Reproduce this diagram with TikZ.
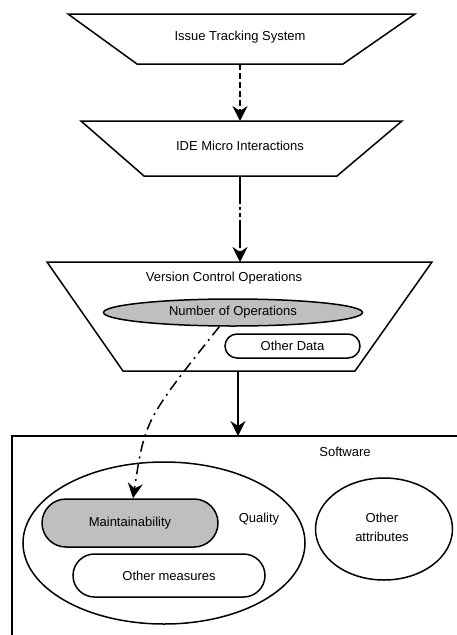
\documentclass[tikz,border=0pt]{standalone}
\usepackage{fontspec}
\setmainfont{Liberation Sans}
\usetikzlibrary{shapes.geometric,shapes.misc,arrows.meta}
\begin{document}
\begin{tikzpicture}[x=1pt,y=-1pt,
  every node/.style={font=\fontsize{13}{19}\selectfont, inner sep=0pt},
  shp/.style={draw, line width=1.5pt},
  gfill/.style={fill=black!25},
  arr/.style={line width=1.5pt, -{Stealth[length=15pt,width=15pt,inset=5pt]}},
  lbl/.style={text=black}]
\useasboundingbox (0,0) rectangle (457,635);
\clip (0,0) rectangle (457,635);
% trapezoids
\draw[shp, line join=miter] (68,14) -- (415,14) -- (343,64) -- (137,64) -- cycle;
\draw[shp, line join=miter] (81,121) -- (402,121) -- (337,176) -- (144,176) -- cycle;
\draw[shp, line join=miter] (47,262) -- (432,262) -- (355,371) -- (123,371) -- cycle;
\coordinate (t1b) at (240,64);
\coordinate (t2t) at (240,121);
\coordinate (t2b) at (240,176);
\coordinate (t3t) at (240,262);
\coordinate (t3b) at (238,371);
\coordinate (swt) at (238,436);
\node[lbl] (its) at (240,37) {Issue Tracking System};
\node[lbl] (ide) at (240,146) {IDE Micro Interactions};
\node[lbl] (vco) at (224,278) {Version Control Operations};
\node[shp, gfill, ellipse, minimum width=259pt, minimum height=27pt] (nop) at (233,312.5) {Number of Operations};
\node[shp, rounded rectangle, minimum width=135pt, minimum height=24pt] (od) at (292.5,346) {Other Data};
% software box
\draw[shp] (12,436) rectangle (475,655);
\node[lbl] (sw) at (345,452) {Software};
\node[shp, ellipse, minimum width=282pt, minimum height=162pt] (qual) at (164,543) {};
\node[lbl] (ql) at (259,519) {Quality};
\node[shp, gfill, rounded rectangle, minimum width=176pt, minimum height=48pt] (maint) at (130,523) {Maintainability};
\node[shp, rounded rectangle, minimum width=192pt, minimum height=43pt] (om) at (169,575.5) {Other measures};
\node[shp, ellipse, minimum width=137pt, minimum height=102pt, align=center] (oa) at (384,529) {};
\node[lbl, align=center] (oat) at (382,527) {Other\\attributes};
% connectors
\draw[arr, dash pattern=on 6pt off 3pt] (t1b) -- (t2t);
\draw[arr, dash pattern=on 28pt off 3pt on 3pt off 3pt on 4pt off 3pt] (t2b) -- (t3t);
\draw[arr] (t3b) -- (swt);
\draw[arr, dash pattern=on 11pt off 5pt on 2pt off 5pt] (nop.226) .. controls (145,420) .. ([xshift=3pt]maint.north);
\end{tikzpicture}
\end{document}
